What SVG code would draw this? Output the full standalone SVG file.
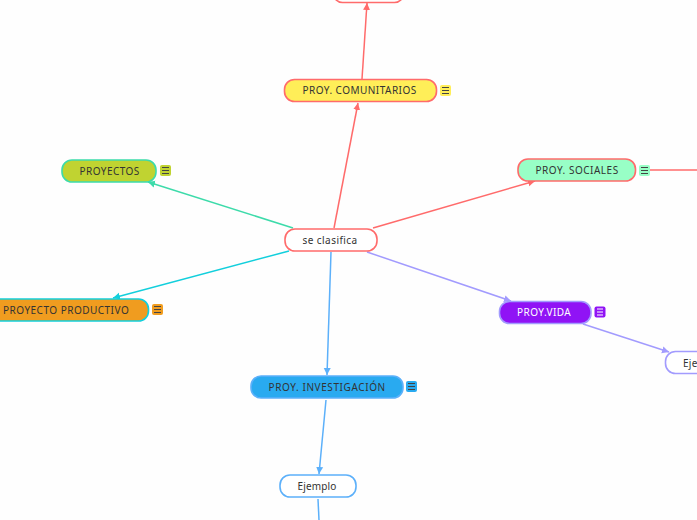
<svg xmlns="http://www.w3.org/2000/svg" width="697" height="520" viewBox="0 0 697 520">
<defs>
<marker id="aR" markerUnits="userSpaceOnUse" markerWidth="8" markerHeight="8" refX="7" refY="4" orient="auto"><path d="M0 0.5L7 4L0 7.5Z" fill="#ff6b6b"/></marker>
<marker id="aG" markerUnits="userSpaceOnUse" markerWidth="8" markerHeight="8" refX="7" refY="4" orient="auto"><path d="M0 0.5L7 4L0 7.5Z" fill="#3ddbaa"/></marker>
<marker id="aC" markerUnits="userSpaceOnUse" markerWidth="8" markerHeight="8" refX="7" refY="4" orient="auto"><path d="M0 0.5L7 4L0 7.5Z" fill="#12cfdc"/></marker>
<marker id="aB" markerUnits="userSpaceOnUse" markerWidth="8" markerHeight="8" refX="7" refY="4" orient="auto"><path d="M0 0.5L7 4L0 7.5Z" fill="#5cb0fa"/></marker>
<marker id="aP" markerUnits="userSpaceOnUse" markerWidth="8" markerHeight="8" refX="7" refY="4" orient="auto"><path d="M0 0.5L7 4L0 7.5Z" fill="#a29bfe"/></marker>
</defs>
<style>
text{font-family:"Noto Sans","Open Sans",sans-serif;font-size:10px;text-anchor:middle;fill:#333;letter-spacing:.3px}
.l{fill:none;stroke-width:1.5}
.n{stroke-width:1.6}
.i{stroke-width:1;fill:none}
</style>
<rect width="697" height="520" fill="#fefefe"/>
<g id="connectors">
<path class="l" stroke="#ff6b6b" marker-end="url(#aR)" d="M362 79L367 3"/>
<path class="l" stroke="#ff6b6b" marker-end="url(#aR)" d="M334 228L358 103"/>
<path class="l" stroke="#ff6b6b" marker-end="url(#aR)" d="M373 228L535 181"/>
<path class="l" stroke="#ff6b6b" d="M650 170L697 170"/>
<path class="l" stroke="#3ddbaa" marker-end="url(#aG)" d="M293 228L148 182"/>
<path class="l" stroke="#12cfdc" marker-end="url(#aC)" d="M289 251L113 298"/>
<path class="l" stroke="#5cb0fa" marker-end="url(#aB)" d="M331 252L327 375"/>
<path class="l" stroke="#5cb0fa" marker-end="url(#aB)" d="M326 400L319 474"/>
<path class="l" stroke="#5cb0fa" d="M318 499L319 520"/>
<path class="l" stroke="#a29bfe" marker-end="url(#aP)" d="M367 252L511 301"/>
<path class="l" stroke="#a29bfe" marker-end="url(#aP)" d="M583 324L669 352"/>
</g>
<g id="n-top"><rect class="n" x="333.500" y="-20" width="70" height="22.500" rx="9" fill="#fff" stroke="#ff6b6b"/></g>
<g id="n-comunitarios">
<rect class="n" x="284.500" y="79.500" width="152" height="22" rx="10" fill="#ffee58" stroke="#ff6b6b"/>
<text x="359.500" y="94" textLength="114">PROY. COMUNITARIOS</text>
<rect x="440" y="85" width="11" height="11" rx="2" fill="#ffee58"/><path class="i" stroke="#444" d="M442 87.500H449M442 90.500H449M442 93.500H449"/>
</g>
<g id="n-proyectos">
<rect class="n" x="62" y="160" width="94" height="22" rx="10" fill="#c0d331" stroke="#3ddbaa"/>
<text x="109.500" y="175" textLength="60">PROYECTOS</text>
<rect x="160" y="165" width="11" height="11" rx="2" fill="#c0d331"/><path class="i" stroke="#444" d="M162 167.500H169M162 170.500H169M162 173.500H169"/>
</g>
<g id="n-sociales">
<rect class="n" x="518" y="159" width="117.500" height="22" rx="10" fill="#98ffc6" stroke="#ff6b6b"/>
<text x="577" y="174" textLength="83">PROY. SOCIALES</text>
<rect x="639" y="165" width="11" height="11" rx="2" fill="#98ffc6"/><path class="i" stroke="#444" d="M641 167.500H648M641 170.500H648M641 173.500H648"/>
</g>
<g id="n-central">
<rect class="n" x="285" y="229" width="92" height="22" rx="10" fill="#fff" stroke="#ff6b6b"/>
<text x="330" y="244" textLength="55">se clasifica</text>
</g>
<g id="n-productivo">
<rect class="n" x="-12" y="299" width="160.500" height="22" rx="10" fill="#f09c1f" stroke="#12cfdc"/>
<text x="66" y="314" textLength="126">PROYECTO PRODUCTIVO</text>
<rect x="152" y="304" width="11" height="11" rx="2" fill="#f09c1f"/><path class="i" stroke="#444" d="M154 306.500H161M154 309.500H161M154 312.500H161"/>
</g>
<g id="n-vida">
<rect class="n" x="499.500" y="301.500" width="91.500" height="22" rx="10" fill="#9013f5" stroke="#a29bfe"/>
<text x="544" y="316" textLength="54" style="fill:#fff">PROY.VIDA</text>
<rect x="594.500" y="306.500" width="11" height="11" rx="2" fill="#9013f5"/><path class="i" stroke="#fff" d="M597 309H603M597 312H603M597 315H603"/>
</g>
<g id="n-ej-vida">
<rect class="n" x="665.500" y="351.500" width="60" height="22" rx="10" fill="#fff" stroke="#a29bfe"/>
<text x="683" y="367" style="text-anchor:start">Eje</text>
</g>
<g id="n-investigacion">
<rect class="n" x="251" y="376" width="152" height="22" rx="10" fill="#29aaf0" stroke="#5cb0fa"/>
<text x="327" y="391" textLength="117">PROY. INVESTIGACIÓN</text>
<rect x="406" y="381" width="11" height="11" rx="2" fill="#29aaf0"/><path class="i" stroke="#444" d="M408 383.500H415M408 386.500H415M408 389.500H415"/>
</g>
<g id="n-ejemplo">
<rect class="n" x="280" y="475" width="76" height="22" rx="10" fill="#fff" stroke="#5cb0fa"/>
<text x="317" y="490" textLength="39">Ejemplo</text>
</g>
</svg>
